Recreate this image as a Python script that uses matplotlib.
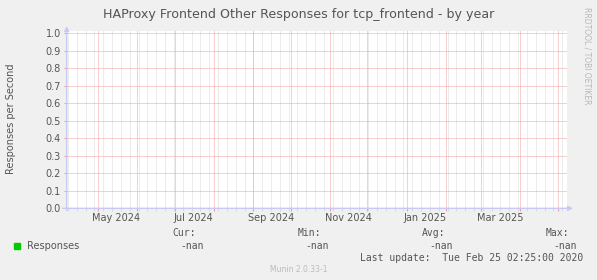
#!/usr/bin/env python3
"""Munin style yearly graph: HAProxy frontend other responses (no data, all nan)."""

import numpy as np
import pandas as pd
import matplotlib

matplotlib.use("Agg")
import matplotlib.pyplot as plt
import matplotlib.dates as mdates

# --- data -----------------------------------------------------------------
t_start = pd.Timestamp("2024-04-06 12:00")
t_end = pd.Timestamp("2025-05-08 00:00")
dates = pd.date_range(t_start, t_end, freq="D")
responses = [np.nan] * len(dates)  # rrd holds nothing but -nan

month_labels = ["May 2024", "Jul 2024", "Sep 2024", "Nov 2024", "Jan 2025", "Mar 2025"]
label_months = ["2024-05-01", "2024-07-01", "2024-09-01", "2024-11-01", "2025-01-01", "2025-03-01"]
y_ticks = [0.0, 0.1, 0.2, 0.3, 0.4, 0.5, 0.6, 0.7, 0.8, 0.9, 1.0]

stat_names = ["Cur:", "Min:", "Avg:", "Max:"]
stat_values = ["-nan", "-nan", "-nan", "-nan"]

title = "HAProxy Frontend Other Responses for tcp_frontend - by year"
series_name = "Responses"
last_update = "Last update:  Tue Feb 25 02:25:00 2020"

# --- style ----------------------------------------------------------------
W, H = 597, 280
BG = "#f0f0f0"
TXT = "#555555"
MGRID = "#f2a0a0"
GRID = "#dadada"
AXIS = "#c8c8f4"
MONO = "DejaVu Sans Mono"


def fx(px):
    return px / W


def fy(py):
    return 1 - py / H


fig = plt.figure(figsize=(W / 100, H / 100), dpi=100, facecolor=BG)
left, right, bottom, top = 66.7, 566.7, 208.3, 30.5
ax = fig.add_axes([fx(left), fy(bottom), (right - left) / W, (bottom - top) / H])
ax.set_facecolor("white")
for s in ax.spines.values():
    s.set_visible(False)

x0, x1 = mdates.date2num(t_start), mdates.date2num(t_end)
ax.set_xlim(x0, x1)
ax.set_ylim(0, 1.0 * (bottom - top) / 175.0)

# grid: weekly minor, monthly major, horizontal every 0.1
weeks = pd.date_range(t_start, t_end, freq="W-SUN")
months = pd.date_range("2024-05-01", t_end, freq="MS")
grid_kw = dict(lw=0.72, ls=(0, (1, 1)), snap=True)
for d in weeks:
    ax.axvline(mdates.date2num(d), color=GRID, zorder=1, **grid_kw)
for d in months:
    ax.axvline(mdates.date2num(d), color=MGRID, zorder=2, **grid_kw)
for v in y_ticks[1:]:
    ax.axhline(v, color=MGRID, zorder=2, **grid_kw)

# series (all nan -> nothing drawn)
ax.plot(mdates.date2num(dates), responses, color="#00cc00", lw=1)

# tick marks below the x axis
xt = ax.get_xaxis_transform()
tick = 2.5 / (bottom - top)
ax.vlines(mdates.date2num(weeks), -tick, 0, color=GRID, lw=0.8, transform=xt, clip_on=False)
ax.vlines(mdates.date2num(months), -tick, 0, color=MGRID, lw=0.8, transform=xt, clip_on=False)

ax.set_xticks([])
ax.set_yticks(y_ticks, [f"{v:.1f}" for v in y_ticks])
ax.tick_params(axis="y", length=2, width=0.8, color=MGRID, pad=2.2, labelsize=7, labelcolor=TXT)

# month labels centred in the month (rrdtool style)
label_y = (bottom - 220.7) / (bottom - top)
for lab, m in zip(month_labels, label_months):
    xc = mdates.date2num(pd.Timestamp(m) + pd.Timedelta(days=15))
    ax.text(xc, label_y, lab, transform=xt, ha="center", va="baseline", fontsize=7, color=TXT)

# axis arrows
ax.annotate("", xy=(1.0126, 0), xytext=(-0.008, 0), xycoords="axes fraction",
            arrowprops=dict(arrowstyle="-|>", color=AXIS, lw=1, mutation_scale=7, shrinkA=0, shrinkB=0))
ax.annotate("", xy=(0, 1.025), xytext=(0, -0.012), xycoords="axes fraction",
            arrowprops=dict(arrowstyle="-|>", color=AXIS, lw=1, mutation_scale=7, shrinkA=0, shrinkB=0))

# titles and labels
fig.text(0.5, fy(18.3), title, ha="center", va="baseline", fontsize=9.1, color=TXT)
fig.text(fx(11), fy(119), "Responses per Second", rotation=90, ha="center", va="center",
         fontsize=7, color=TXT)
fig.text(fx(587), fy(56), "RRDTOOL / TOBI OETIKER", rotation=270, ha="center", va="center",
         fontsize=5.5, color="#b8b8b8")

# legend
fig.patches.append(plt.Rectangle((fx(14), fy(249)), 6 / W, 6 / H, transform=fig.transFigure,
                                 color="#00cc00", figure=fig))
fig.text(fx(27), fy(245.7), series_name, ha="left", va="center", fontsize=7, color=TXT)
head_x = [196, 320.7, 445, 569]
val_x = [204, 329, 453, 577]
for name, val, hx, vx in zip(stat_names, stat_values, head_x, val_x):
    fig.text(fx(hx), fy(233.3), name, ha="right", va="center", fontsize=7, color=TXT, family=MONO)
    fig.text(fx(vx), fy(245.7), val, ha="right", va="center", fontsize=7, color=TXT, family=MONO)
fig.text(fx(583), fy(257.7), last_update, ha="right", va="center", fontsize=7, color=TXT, family=MONO)
fig.text(0.5, fy(269), "Munin 2.0.33-1", ha="center", va="center", fontsize=5.5, color="#bbbbbb")

fig.savefig("out.png", dpi=100, facecolor=BG)
